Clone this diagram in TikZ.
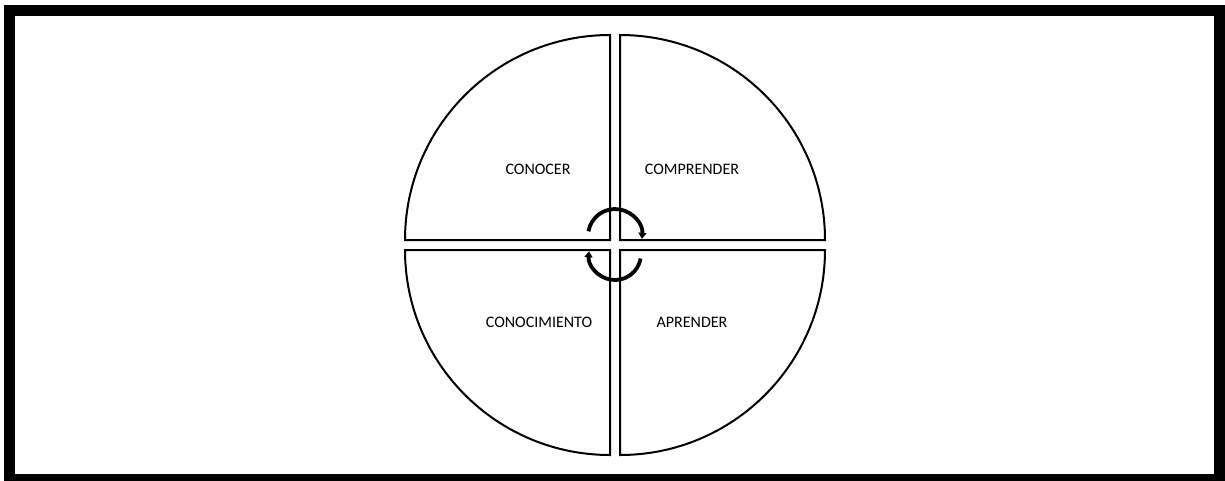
\documentclass[tikz,border=0pt]{standalone}
\usepackage{fontspec}
\setmainfont{Carlito}
\usetikzlibrary{arrows.meta}
\begin{document}
\begin{tikzpicture}[x=1pt,y=-1pt,
  quad/.style={draw=black,line width=2pt,fill=white,line join=miter},
  lbl/.style={font=\fontsize{16}{18}\selectfont,text=black,inner sep=0pt},
  cyc/.style={draw=black,line width=3.8pt,-{Triangle[length=6pt,width=8pt]}}]
\useasboundingbox (0,0) rectangle (1225,480);
\fill[white] (0,0) rectangle (1225,480);
\draw[line width=11pt] (9.5,10.5) rectangle (1219.5,479.5);
% quadrants
\def\R{205}
\draw[quad] (610,240) -- (610,240-\R) arc[start angle=90,end angle=180,x radius=\R,y radius=-\R] -- cycle;
\draw[quad] (620,240) -- (620+\R,240) arc[start angle=0,end angle=90,x radius=\R,y radius=-\R] -- cycle;
\draw[quad] (610,250) -- (610-\R,250) arc[start angle=180,end angle=270,x radius=\R,y radius=-\R] -- cycle;
\draw[quad] (620,250) -- (620,250+\R) arc[start angle=270,end angle=360,x radius=\R,y radius=-\R] -- cycle;
% labels
\node[lbl] (conocer) at (538,169) {CONOCER};
\node[lbl] (comprender) at (692,169) {COMPRENDER};
\node[lbl] (conocimiento) at (539,322) {CONOCIMIENTO};
\node[lbl] (aprender) at (692,322) {APRENDER};
% cycle arrows
\draw[cyc] (615,236) ++(-170:27) arc[start angle=170,end angle=-6,x radius=27,y radius=-27];
\draw[cyc] (615,254) ++(10:26) arc[start angle=-10,end angle=-186,x radius=26,y radius=-26];
\end{tikzpicture}
\end{document}
